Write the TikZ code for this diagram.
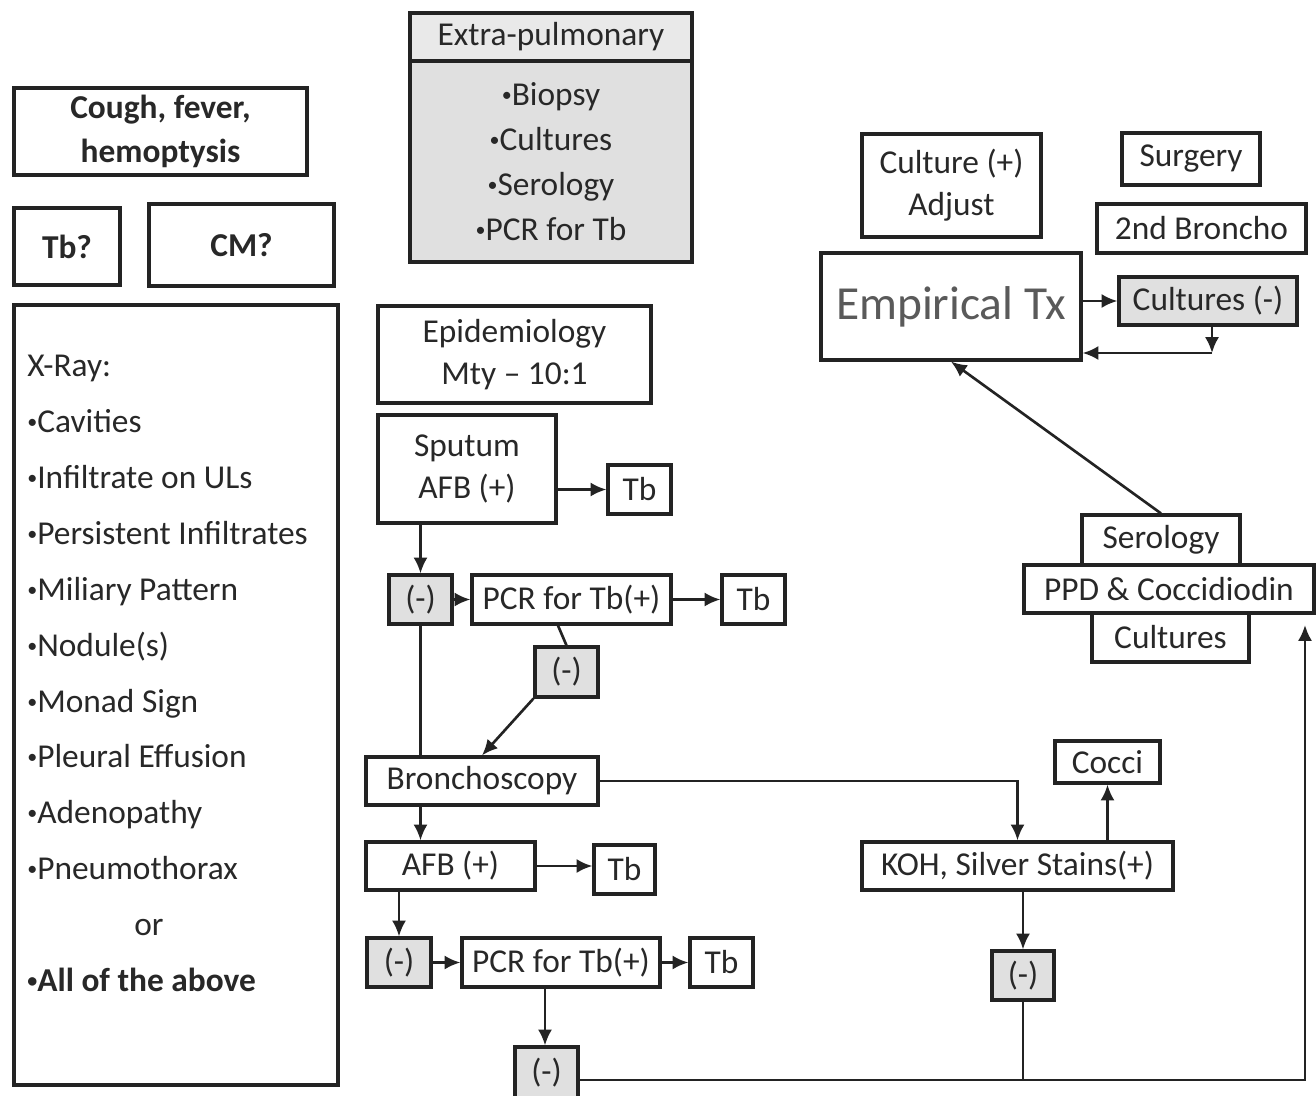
\documentclass[tikz,border=0pt]{standalone}
\usepackage{graphicx}
\usepackage{fontspec}
\setmainfont{Carlito}
\usetikzlibrary{arrows.meta}
\definecolor{linec}{RGB}{35,35,35}
\definecolor{txtc}{RGB}{40,40,40}
\definecolor{gfill}{RGB}{224,224,224}
\definecolor{emptxt}{RGB}{90,90,90}
\newcommand\bul{\raisebox{0.12em}{\scalebox{0.6}{•}}}
\tikzset{
  bx/.style={draw=linec, line width=1.8pt, fill=white, inner sep=0pt, text=txtc, align=center, font=\fontsize{19}{24}\selectfont},
  gbx/.style={fill=gfill},
  arr/.style={draw=linec, line width=1.5pt, -{Latex[length=9pt,width=8pt]}},
  ln/.style={draw=linec, line width=1.5pt},
}
\newcommand\bx[7][]{\node[bx,#1,minimum width={(#4-#2)*0.02cm},minimum height={(#5-#3)*0.02cm}] (#6) at ({(#2+#4)/2},{(#3+#5)/2}) {#7};}
\begin{document}
\begin{tikzpicture}[x=0.02cm,y=-0.02cm]
\useasboundingbox (0,0) rectangle (1316,1096);
\fill[white] (0,0) rectangle (1316,1096);
% left column
\bx[font=\bfseries\fontsize{19}{25}\selectfont]{14}{88}{307}{175}{cough}{Cough, fever,\\hemoptysis}
\bx[font=\bfseries\fontsize{19}{24}\selectfont]{14}{208}{120}{285}{tbq}{Tb?}
\bx[font=\bfseries\fontsize{19}{24}\selectfont]{149}{204}{334}{286}{cmq}{CM?}
\bx{14}{305}{338}{1085}{xray}{}
\node[anchor=north west, inner sep=0pt, align=left, text=txtc, font=\fontsize{19}{31.8}\selectfont] (xraytxt) at (27,355)
  {X-Ray:\\ \bul Cavities\\ \bul Infiltrate on ULs\\ \bul Persistent Infiltrates\\ \bul Miliary Pattern\\ \bul Nodule(s)\\ \bul Monad Sign\\ \bul Pleural Effusion\\ \bul Adenopathy\\ \bul Pneumothorax\\ \hspace*{2.14cm}or\\ \textbf{\bul All of the above}};
% extra-pulmonary
\bx[gbx, fill=gfill!70]{410}{13}{692}{61}{ephead}{Extra-pulmonary}
\bx[gbx, font=\fontsize{19}{25.5}\selectfont]{410}{61}{692}{262}{epbody}{\bul Biopsy\\ \bul Cultures\\ \bul Serology\\ \bul PCR for Tb}
% middle column
\bx{378}{306}{651}{403}{epid}{Epidemiology\\ Mty – 10:1}
\bx{378}{415}{556}{523}{sput}{Sputum\\ AFB (+)}
\bx{608}{465}{671}{514}{tba}{Tb}
\bx[gbx]{389}{575}{452}{624}{nega}{(-)}
\bx{472}{575}{671}{624}{pcra}{PCR for Tb(+)}
\bx{722}{575}{785}{624}{tbb}{Tb}
\bx[gbx]{535}{647}{598}{697}{negb}{(-)}
\bx{366}{757}{598}{805}{bron}{Bronchoscopy}
\bx{366}{842}{535}{890}{afbb}{AFB (+)}
\bx{594}{845}{655}{894}{tbc}{Tb}
\bx[gbx]{367}{938}{431}{987}{negc}{(-)}
\bx{462}{938}{660}{987}{pcrb}{PCR for Tb(+)}
\bx{690}{938}{753}{987}{tbd}{Tb}
\bx[gbx]{515}{1047}{578}{1099}{negd}{(-)}
% right part
\bx{862}{842}{1173}{890}{koh}{KOH, Silver Stains(+)}
\bx{1055}{741}{1160}{783}{cocci}{Cocci}
\bx[gbx]{992}{951}{1054}{1000}{nege}{(-)}
\bx{1082}{515}{1240}{565}{ser}{Serology}
\bx{1092}{613}{1249}{662}{cult}{Cultures}
\bx{1024}{565}{1314}{613}{ppd}{PPD \& Coccidiodin}
\bx[font=\fontsize{27}{30}\selectfont, text=emptxt]{821}{253}{1081}{360}{emp}{Empirical Tx}
\bx{862}{134}{1041}{237}{adj}{Culture (+)\\ Adjust}
\bx{1122}{133}{1260}{185}{surg}{Surgery}
\bx{1097}{204}{1306}{253}{bro2}{2nd Broncho}
\bx[gbx]{1119}{277}{1297}{325}{cultn}{Cultures (-)}
% connectors
\draw[arr] (sput.east |- tba.west) -- (tba.west);
\draw[arr] (sput.south -| nega.north) -- (nega.north);
\draw[arr] (nega) -- (pcra);
\draw[arr] (pcra) -- (tbb);
\draw[ln] ([xshift=-0.27cm]pcra.south) -- (negb.north);
\draw[arr] (negb.south west) -- (bron.north);
\draw[ln] (nega.south) -- (nega.south |- bron.north);
\draw[arr] (bron.south -| nega.south) -- (afbb.north -| nega.south);
\draw[arr] (bron.east) -| (koh.north);
\draw[arr] (afbb.east) -- (afbb.east -| tbc.west);
\draw[arr] (afbb.south -| negc.north) -- (negc.north);
\draw[arr] (negc) -- (pcrb);
\draw[arr] (pcrb) -- (tbd);
\draw[arr] (pcrb.south -| 545,0) -- (negd.north -| 545,0);
\draw[arr] (koh.south -| nege.north) -- (nege.north);
\draw[arr] (koh.north -| cocci.south) -- (cocci.south);
\coordinate (rc) at (1305,625);
\coordinate (dl) at ([yshift=-0.14cm]negd.east);
\draw[arr] (dl) -| (rc);
\draw[ln] (nege.south) -- (nege.south |- dl);
\draw[arr] (ser.north) -- (emp.south);
\draw[arr] (emp.east |- cultn.west) -- (cultn.west);
\coordinate (cc) at (1212,353);
\draw[arr] (cultn.south -| cc) -- (cc);
\draw[arr] (cc) -- (cc -| emp.east);
\end{tikzpicture}
\end{document}
